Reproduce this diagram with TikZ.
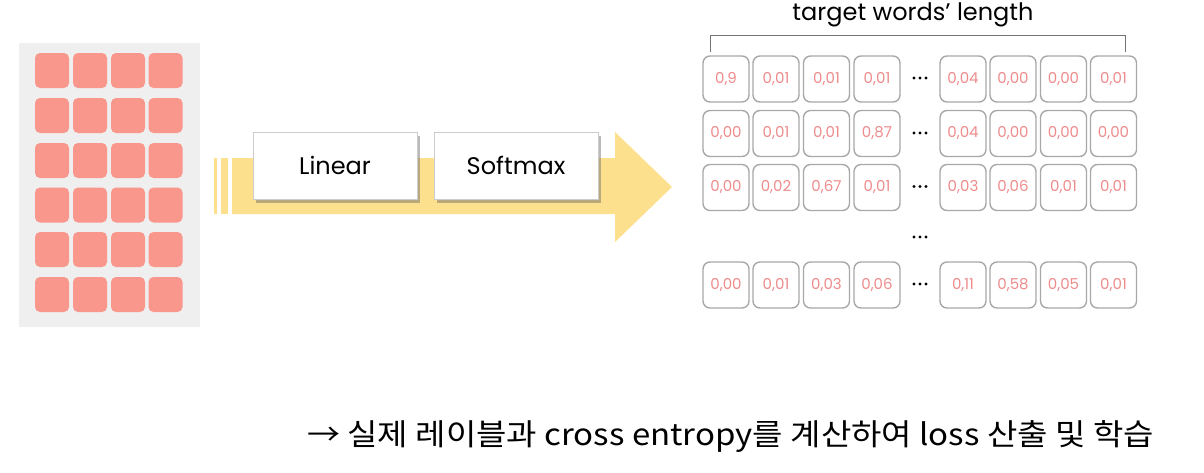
\documentclass[tikz,border=0pt]{standalone}
\usepackage{fontspec}
\setmainfont{Poppins}
\newfontfamily\krfont{Noto Sans CJK KR}
\usetikzlibrary{shadows}
\definecolor{panelgray}{HTML}{EFEFEF}
\definecolor{salmon}{HTML}{F9978C}
\definecolor{arrowyellow}{HTML}{FDE08E}
\definecolor{cellborder}{HTML}{A8A8A8}
\definecolor{celltext}{HTML}{EE8B8B}
\tikzset{
  redsq/.style={fill=salmon, draw=none, rounded corners=5pt, minimum width=34pt, minimum height=35pt, inner sep=0pt},
  opbox/.style={draw=black!20, fill=white, line width=0.6pt, minimum width=164pt, minimum height=67pt, inner sep=0pt,
    drop shadow={shadow xshift=3pt, shadow yshift=-4pt, opacity=0.45, fill=black!60}, font=\fontsize{24}{28}\selectfont},
  cell/.style={draw=cellborder, line width=1.4pt, rounded corners=7pt, minimum width=46pt, minimum height=46pt, inner sep=0pt,
    text=celltext, font=\fontsize{15}{17}\selectfont},
  dot/.style={circle, fill=black, inner sep=0pt, minimum size=3.4pt},
}
\newcommand{\hdots}[2]{%
  \node[dot] (#1l) at ([xshift=-6pt]#2) {};
  \node[dot] (#1m) at (#2) {};
  \node[dot] (#1r) at ([xshift=6pt]#2) {};
}
\begin{document}
\begin{tikzpicture}[x=1pt,y=-1pt]
\useasboundingbox (0,0) rectangle (1204,472);
% left panel
\fill[panelgray] (19,43) rectangle (200,327);
\foreach \r [count=\i] in {70.5,115.5,160.5,205,249.5,294.5}{
  \foreach \c [count=\j] in {52,90,128,165.5}{
    \node[redsq] (m\i\j) at (\c,\r) {};
  }
}
% arrow
\fill[arrowyellow] (214,158) rectangle (217,214);
\fill[arrowyellow] (221,158) rectangle (228,214);
\fill[arrowyellow] (232,158) -- (615,158) -- (615,132) -- (672,187) -- (615,242) -- (615,214) -- (232,214) -- cycle;
\node[opbox] (linear) at (335,165.5) {Linear};
\node[opbox] (softmax) at (516,165.5) {Softmax};
% bracket and label
\node[font=\fontsize{24}{28}\selectfont, inner sep=0pt] (lbl) at (913,14.5) {target words’ length};
\coordinate (bl) at (710,52);
\coordinate (br) at (1125,52);
\draw[black!55, line width=0.9pt] (bl) -- ++(0,-17) -| (br);
% grid positions
\foreach \row/\y in {1/79,2/133.5,3/187.5,4/285}{
  \foreach \col/\x in {1/726,2/776,3/826.5,4/877,5/963,6/1013,7/1063.5,8/1113.5}{
    \coordinate (p\row\col) at (\x,\y);
  }
}
\def\cellrow#1#2#3#4#5#6#7#8#9{%
  \node[cell] (c#1a) at (p#11) {#2};
  \node[cell] (c#1b) at (p#12) {#3};
  \node[cell] (c#1c) at (p#13) {#4};
  \node[cell] (c#1d) at (p#14) {#5};
  \node[cell] (c#1e) at (p#15) {#6};
  \node[cell] (c#1f) at (p#16) {#7};
  \node[cell] (c#1g) at (p#17) {#8};
  \node[cell] (c#1h) at (p#18) {#9};
}
\cellrow{1}{0,9}{0,01}{0,01}{0,01}{0,04}{0,00}{0,00}{0,01}
\cellrow{2}{0,00}{0,01}{0,01}{0,87}{0,04}{0,00}{0,00}{0,00}
\cellrow{3}{0,00}{0,02}{0,67}{0,01}{0,03}{0,06}{0,01}{0,01}
\cellrow{4}{0,00}{0,01}{0,03}{0,06}{0,11}{0,58}{0,05}{0,01}
\coordinate (dp1) at (920,78);
\coordinate (dp2) at (920,133);
\coordinate (dp3) at (920,186.5);
\coordinate (dp4) at (920,284);
\coordinate (dp5) at (920,237);
\hdots{da}{dp1}
\hdots{db}{dp2}
\hdots{dc}{dp3}
\hdots{dd}{dp4}
\hdots{de}{dp5}
% bottom text
\node[anchor=west, inner sep=0pt, font=\krfont\fontsize{30}{32}\selectfont] (note) at (307,437)
  {\scalebox{1.1}[1]{→ 실제 레이블과 cross entropy를 계산하여 loss 산출 및 학습}};
\end{tikzpicture}
\end{document}
